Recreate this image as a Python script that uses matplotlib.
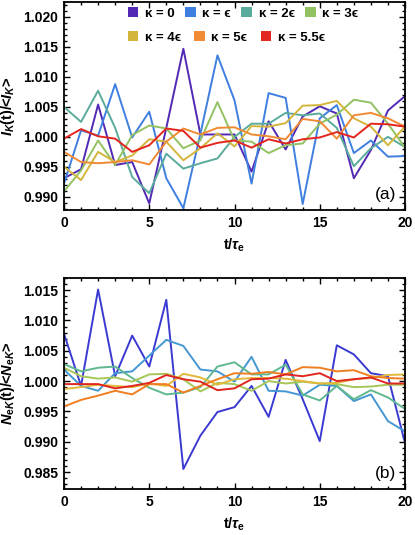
import numpy as np
import matplotlib
matplotlib.use('Agg')
import matplotlib.pyplot as plt
from matplotlib.ticker import MultipleLocator, FormatStrFormatter
from matplotlib.patches import Patch

plt.rcParams['font.family'] = ['Liberation Sans', 'DejaVu Sans']
plt.rcParams['font.weight'] = 'bold'
plt.rcParams['mathtext.fontset'] = 'custom'
plt.rcParams['mathtext.rm'] = 'Liberation Sans:bold'
plt.rcParams['mathtext.it'] = 'Liberation Sans:italic:bold'
plt.rcParams['mathtext.bf'] = 'Liberation Sans:bold'

# time axis t/tau_e
t = np.arange(21)

labels = ['κ = 0', 'κ = ϵ', 'κ = 2ϵ', 'κ = 3ϵ', 'κ = 4ϵ', 'κ = 5ϵ', 'κ = 5.5ϵ']

# panel (a): I_K(t)/<I_K>
ik_0 = [0.9931, 0.9946, 1.0054, 0.9953, 0.9958, 0.9889, 1.0015, 1.0147, 1.0004, 1.0004, 1.0004,
        0.9942, 1.0026, 0.9979, 1.0034, 1.0051, 1.0039, 0.9931, 0.9978, 1.0044, 1.0068]
ik_1 = [0.9922, 1.0011, 1.0002, 1.0088, 0.9999, 1.0042, 0.9931, 0.9881, 1.0005, 1.0136, 1.0061,
        0.9922, 1.0073, 1.0065, 0.9888, 1.0031, 1.0053, 0.9973, 0.9994, 0.9967, 0.9968]
ik_2 = [1.0050, 1.0025, 1.0077, 1.0015, 0.9933, 0.9906, 0.9972, 0.9947, 0.9956, 0.9964, 1.0000,
        1.0022, 1.0022, 1.0040, 1.0036, 1.0039, 1.0015, 0.9951, 0.9981, 1.0000, 0.9983]
ik_3 = [0.9909, 0.9944, 0.9994, 0.9953, 1.0003, 1.0019, 1.0014, 0.9981, 0.9994, 1.0058, 0.9994,
        0.9992, 0.9973, 0.9986, 0.9989, 1.0022, 1.0037, 1.0062, 1.0057, 1.0022, 0.9982]
ik_4 = [0.9950, 0.9928, 0.9975, 0.9958, 0.9969, 0.9996, 0.9992, 0.9961, 0.9981, 1.0006, 0.9984,
        1.0018, 1.0017, 1.0023, 1.0052, 1.0053, 1.0060, 1.0031, 1.0017, 0.9986, 1.0017]
ik_5 = [0.9975, 0.9958, 0.9956, 0.9958, 0.9961, 0.9954, 0.9992, 1.0014, 1.0004, 1.0015, 1.0016,
        1.0004, 1.0001, 0.9996, 1.0030, 1.0026, 0.9997, 1.0036, 1.0040, 1.0031, 1.0017]
ik_55 = [0.9997, 1.0013, 1.0001, 0.9997, 0.9975, 0.9986, 1.0014, 1.0010, 0.9982, 0.9990, 0.9994,
         0.9982, 0.9996, 0.9989, 0.9996, 0.9999, 1.0008, 0.9999, 1.0022, 1.0021, 1.0017]

# panel (b): N_eK(t)/<N_eK>
ne_0 = [1.0078, 0.9992, 1.0151, 1.0008, 1.0075, 1.0024, 1.0134, 0.9855, 0.9910, 0.9949, 0.9957,
        0.9992, 0.9941, 1.0035, 0.9970, 0.9901, 1.0059, 1.0044, 1.0013, 1.0008, 0.9898]
ne_1 = [1.0019, 0.9992, 0.9984, 1.0013, 1.0016, 1.0042, 1.0068, 1.0058, 1.0019, 1.0016, 0.9999,
        1.0040, 0.9984, 0.9983, 0.9976, 0.9994, 0.9992, 0.9967, 0.9978, 0.9934, 0.9917]
ne_2 = [1.0028, 1.0016, 1.0022, 1.0024, 1.0005, 0.9989, 0.9978, 0.9981, 0.9990, 1.0024, 1.0031,
        1.0011, 1.0011, 1.0027, 0.9978, 0.9968, 0.9992, 0.9970, 0.9985, 0.9973, 0.9954]
ne_3 = [1.0022, 1.0008, 1.0004, 1.0006, 0.9999, 1.0011, 1.0012, 1.0003, 0.9983, 0.9997, 0.9995,
        0.9984, 1.0000, 0.9996, 0.9999, 0.9996, 0.9995, 0.9990, 0.9991, 0.9994, 0.9994]
ne_4 = [0.9987, 0.9990, 0.9994, 0.9992, 0.9990, 0.9996, 0.9992, 1.0012, 1.0006, 0.9994, 1.0003,
        1.0005, 1.0005, 1.0004, 1.0000, 0.9996, 0.9997, 1.0003, 1.0005, 1.0010, 1.0011]
ne_5 = [0.9958, 0.9969, 0.9976, 0.9984, 0.9978, 0.9995, 0.9995, 0.9981, 0.9992, 1.0003, 1.0013,
        1.0012, 1.0015, 1.0011, 1.0023, 1.0022, 1.0016, 1.0018, 1.0008, 1.0005, 1.0004]
ne_55 = [0.9995, 0.9995, 0.9995, 0.9988, 0.9992, 0.9997, 1.0010, 1.0003, 0.9999, 0.9985, 0.9988,
         1.0003, 1.0004, 1.0011, 1.0008, 1.0013, 1.0000, 1.0003, 1.0006, 0.9996, 0.9996]

colors_a = ['#5229b5', '#3f7fe0', '#5aab9c', '#92c262', '#d4b53c', '#f08a35', '#e3261f']
colors_b = ['#3a3ad2', '#4597d2', '#60b88e', '#a6c658', '#e2b83a', '#f07f22', '#e0261f']

fig = plt.figure(figsize=(4.15, 5.35), dpi=100)
ax1 = fig.add_axes([64 / 415, 1 - 210 / 535, 341 / 415, 208 / 535])
ax2 = fig.add_axes([64 / 415, 1 - 489 / 535, 341 / 415, 211 / 535])


def style(ax, ylo, yhi):
    ax.set_xlim(0, 20)
    ax.set_ylim(ylo, yhi)
    ax.xaxis.set_major_locator(MultipleLocator(5))
    ax.xaxis.set_minor_locator(MultipleLocator(1))
    ax.yaxis.set_major_locator(MultipleLocator(0.005))
    ax.yaxis.set_minor_locator(MultipleLocator(0.001))
    ax.yaxis.set_major_formatter(FormatStrFormatter('%.3f'))
    ax.tick_params(which='both', direction='in', top=True, right=True, width=1.0,
                   labelsize=10, pad=4)
    ax.tick_params(which='major', length=4)
    ax.tick_params(which='minor', length=2.2)
    for s in ax.spines.values():
        s.set_linewidth(1.3)
    for lab in ax.get_xticklabels() + ax.get_yticklabels():
        lab.set_fontweight('bold')
    ax.set_xlabel(r't/$\tau_{\mathrm{e}}$', fontsize=10.5, fontweight='bold', labelpad=5)


series_a = [ik_0, ik_1, ik_2, ik_3, ik_4, ik_5, ik_55]
for y, c in zip(series_a, colors_a):
    ax1.plot(t, y, color=c, lw=1.4)
style(ax1, 0.9878, 1.0225)
ax1.set_ylabel(r'$I_K$(t)/<$I_K$>', fontsize=10.5, fontweight='bold', labelpad=5)
ax1.text(0.975, 0.04, '(a)', transform=ax1.transAxes, ha='right', va='bottom',
         fontsize=12.5, fontweight='normal')

handles = [Patch(facecolor=c, edgecolor='none') for c in colors_a]
leg1 = ax1.legend(handles[:4], labels[:4], ncol=4, loc='upper left', bbox_to_anchor=(0.16, 1.02),
                  frameon=False, fontsize=9.5, handlelength=0.8, handleheight=0.8,
                  handletextpad=0.5, columnspacing=0.8, borderaxespad=0.3)
ax1.add_artist(leg1)
ax1.legend(handles[4:], labels[4:], ncol=3, loc='upper left', bbox_to_anchor=(0.16, 0.905),
           frameon=False, fontsize=9.5, handlelength=0.8, handleheight=0.8,
           handletextpad=0.5, columnspacing=1.0, borderaxespad=0.3)

series_b = [ne_0, ne_1, ne_2, ne_3, ne_4, ne_5, ne_55]
for y, c in zip(series_b, colors_b):
    ax2.plot(t, y, color=c, lw=1.4)
style(ax2, 0.9822, 1.0170)
ax2.set_ylabel(r'$N_{\mathrm{e}K}$(t)/<$N_{\mathrm{e}K}$>', fontsize=10.5, fontweight='bold', labelpad=5)
ax2.text(0.975, 0.04, '(b)', transform=ax2.transAxes, ha='right', va='bottom',
         fontsize=12.5, fontweight='normal')

fig.savefig('out.png', dpi=100)
